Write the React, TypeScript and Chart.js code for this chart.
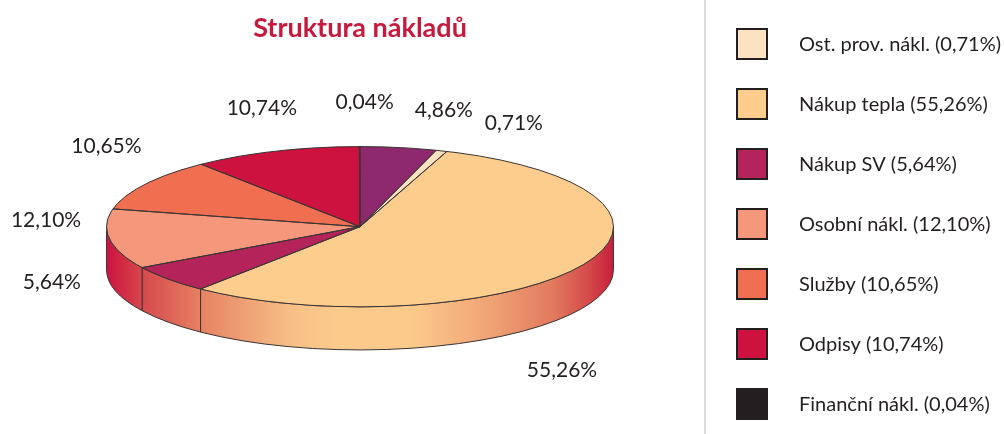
import React, { useEffect, useRef } from 'react';
import { Chart, registerables } from 'chart.js';

Chart.register(...registerables);

// ---- data ----
const categories = [
  'Ost. prov. nákl.',
  'Nákup tepla',
  'Nákup SV',
  'Osobní nákl.',
  'Služby',
  'Odpisy',
  'Finanční nákl.',
  'Ostatní',
];
const shares = [0.71, 55.26, 5.64, 12.1, 10.65, 10.74, 0.04, 4.86];
const sliceColors = ['#FDE2C2', '#FCCD8D', '#B5235B', '#F4977A', '#F06F50', '#CD1240', '#231F20', '#8F296E'];
const titleText = 'Struktura nákladů';

// ---- layout / style (not data) ----
const RX_RATIO = 1.515; // horizontal stretch of the pie
const RY_RATIO = 0.479; // vertical squash (tilt)
const DEPTH_RATIO = 0.2575; // side height relative to radius
const labelNudges: [number, number][] = [
  [61, 1],
  [-49, 46],
  [-90, -60],
  [-29, -67],
  [-9, -22],
  [-2, -15],
  [5, -14],
  [40, -8],
];
const TEXT_COLOR = '#231F20';
const EDGE_COLOR = '#3A3334';

const fmt = (v: number) => v.toFixed(2).replace('.', ',');
const total = shares.reduce((a, b) => a + b, 0);

function geometry(chart: any) {
  const meta = chart.getDatasetMeta(0);
  const a0: any = meta.data[0];
  const cx = a0.x;
  const cy = a0.y;
  const R = a0.outerRadius;
  return { meta, cx, cy, R, rx: R * RX_RATIO, ry: R * RY_RATIO, depth: R * DEPTH_RATIO };
}

function visiblePieces(s: number, e: number) {
  const res: [number, number][] = [];
  const TWO = Math.PI * 2;
  for (let k = -2; k <= 2; k++) {
    const lo = k * TWO;
    const hi = k * TWO + Math.PI;
    const a = Math.max(s, lo);
    const b = Math.min(e, hi);
    if (b > a) res.push([a, b]);
  }
  return res;
}

const pie3dPlugin = {
  id: 'pie3d',
  beforeDatasetsDraw(chart: any) {
    const ctx = chart.ctx as CanvasRenderingContext2D;
    const { meta, cx, cy, rx, ry, depth } = geometry(chart);
    ctx.save();
    const grad = ctx.createLinearGradient(cx - rx, 0, cx + rx, 0);
    grad.addColorStop(0, '#CC1240');
    grad.addColorStop(0.07, '#D6484C');
    grad.addColorStop(0.2, '#E78866');
    grad.addColorStop(0.36, '#F7BE86');
    grad.addColorStop(0.46, '#FCCB8C');
    grad.addColorStop(0.6, '#FCCB8C');
    grad.addColorStop(0.76, '#EFA274');
    grad.addColorStop(0.88, '#E27A5E');
    grad.addColorStop(0.95, '#D54B4C');
    grad.addColorStop(1, '#C81E3C');
    ctx.lineWidth = 1;
    ctx.strokeStyle = EDGE_COLOR;
    meta.data.forEach((arc: any) => {
      visiblePieces(arc.startAngle, arc.endAngle).forEach(([a, b]) => {
        ctx.beginPath();
        ctx.ellipse(cx, cy, rx, ry, 0, a, b, false);
        ctx.lineTo(cx + rx * Math.cos(b), cy + depth + ry * Math.sin(b));
        ctx.ellipse(cx, cy + depth, rx, ry, 0, b, a, true);
        ctx.closePath();
        ctx.fillStyle = grad;
        ctx.fill();
        ctx.stroke();
      });
    });
    ctx.restore();
    // squash the library's own arcs into the tilted top face
    ctx.save();
    ctx.translate(cx, cy);
    ctx.scale(RX_RATIO, RY_RATIO);
    ctx.translate(-cx, -cy);
  },
  afterDatasetsDraw(chart: any) {
    const ctx = chart.ctx as CanvasRenderingContext2D;
    ctx.restore();
    const { meta, cx, cy, rx, ry, depth } = geometry(chart);
    ctx.save();
    ctx.strokeStyle = EDGE_COLOR;
    ctx.lineWidth = 1;
    ctx.beginPath();
    ctx.ellipse(cx, cy, rx, ry, 0, 0, Math.PI * 2);
    ctx.stroke();
    meta.data.forEach((arc: any) => {
      [arc.startAngle, arc.endAngle].forEach((t: number) => {
        ctx.beginPath();
        ctx.moveTo(cx, cy);
        ctx.lineTo(cx + rx * Math.cos(t), cy + ry * Math.sin(t));
        ctx.stroke();
      });
    });
    // percent labels
    ctx.fillStyle = TEXT_COLOR;
    ctx.font = '21px Lato';
    ctx.textAlign = 'center';
    ctx.textBaseline = 'middle';
    meta.data.forEach((arc: any, i: number) => {
      const mid = (arc.startAngle + arc.endAngle) / 2;
      const s = Math.sin(mid);
      const bx = cx + (rx + 35) * Math.cos(mid);
      const by = cy + (ry + 30) * s + (s > 0 ? depth : 0);
      const [nx, ny] = labelNudges[i];
      ctx.fillText(fmt(shares[i]) + '%', bx + nx, by + ny);
    });
    ctx.restore();
  },
};

const legendPlugin = {
  id: 'sideLegend',
  afterDraw(chart: any) {
    const ctx = chart.ctx as CanvasRenderingContext2D;
    ctx.save();
    ctx.strokeStyle = '#DCDCDC';
    ctx.lineWidth = 2;
    ctx.beginPath();
    ctx.moveTo(705, 0);
    ctx.lineTo(705, chart.height);
    ctx.stroke();
    const labels = chart.data.labels as string[];
    const colors = chart.data.datasets[0].backgroundColor as string[];
    ctx.font = '20px Lato';
    ctx.textAlign = 'left';
    ctx.textBaseline = 'middle';
    labels.forEach((lab, i) => {
      const yc = 44 + i * 60;
      ctx.fillStyle = colors[i];
      ctx.fillRect(737, yc - 15, 30, 30);
      ctx.strokeStyle = TEXT_COLOR;
      ctx.lineWidth = 2;
      ctx.strokeRect(737, yc - 15, 30, 30);
      ctx.fillStyle = TEXT_COLOR;
      ctx.fillText(`${lab} (${fmt(shares[i])}%)`, 799, yc + 1);
    });
    ctx.restore();
  },
};

export default function App() {
  const ref = useRef<HTMLCanvasElement | null>(null);
  useEffect(() => {
    document.body.style.margin = '0';
    if (!ref.current) return;
    const chart = new Chart(ref.current, {
      type: 'pie',
      data: {
        labels: categories,
        datasets: [
          {
            data: shares,
            backgroundColor: sliceColors,
            borderWidth: 0,
            clip: false as any,
          } as any,
        ],
      },
      options: {
        animation: false,
        responsive: false,
        devicePixelRatio: 1,
        rotation: (shares[shares.length - 1] / total) * 360,
        layout: { padding: { left: 0, right: 284, top: 0, bottom: 40 } },
        plugins: {
          legend: { display: false },
          tooltip: { enabled: false },
          title: {
            display: true,
            text: titleText,
            color: '#C8193C',
            font: { family: 'Lato', size: 27, weight: 'bold' },
            padding: { top: 12, bottom: 15 },
          },
        },
      } as any,
      plugins: [pie3dPlugin, legendPlugin],
    });
    return () => chart.destroy();
  }, []);
  return (
    <div style={{ width: 1004, height: 434, background: '#fff' }}>
      <canvas ref={ref} width={1004} height={434} style={{ display: 'block' }} />
    </div>
  );
}
